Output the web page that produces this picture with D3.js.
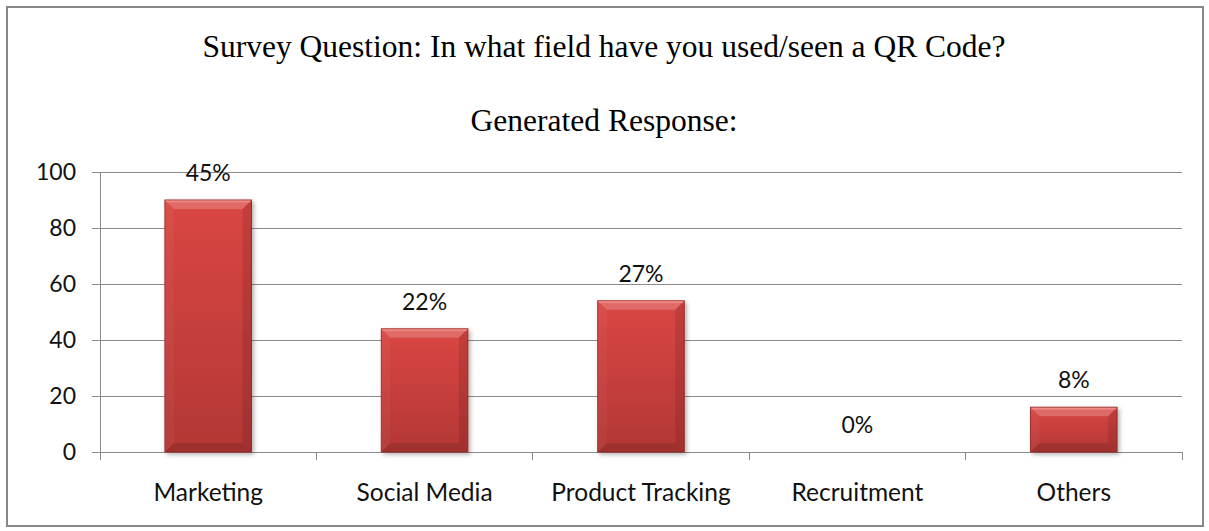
<!DOCTYPE html>
<html>
<head>
<meta charset="utf-8">
<script src="https://cdn.jsdelivr.net/npm/d3@7"></script>
<style>
  html, body { margin: 0; padding: 0; background: #fff; }
  svg { display: block; }
</style>
</head>
<body>
<svg id="chart" width="1209" height="531"></svg>
<script>
const categories = ["Marketing", "Social Media", "Product Tracking", "Recruitment", "Others"];
const values = [90, 44, 54, 0, 16];
const valueLabels = ["45%", "22%", "27%", "0%", "8%"];
const yTicks = [0, 20, 40, 60, 80, 100];
const titleLines = ["Survey Question: In what field have you used/seen a QR Code?", "Generated Response:"];

const svg = d3.select("#chart");
const plot = { left: 100, right: 1182, top: 172, bottom: 452 };
const labelFont = "Lato, 'Open Sans', sans-serif";
const titleFont = "'Liberation Serif', 'Times New Roman', serif";

// outer border
svg.append("rect")
  .attr("x", 7).attr("y", 7).attr("width", 1196).attr("height", 519)
  .attr("fill", "#fff").attr("stroke", "#878787").attr("stroke-width", 2);

// defs
const defs = svg.append("defs");
const grad = defs.append("linearGradient").attr("id", "barGrad")
  .attr("x1", 0).attr("y1", 0).attr("x2", 0).attr("y2", 1);
grad.append("stop").attr("offset", "0%").attr("stop-color", "#da4643");
grad.append("stop").attr("offset", "100%").attr("stop-color", "#b33735");
const shadow = defs.append("filter").attr("id", "shadow")
  .attr("x", "-20%").attr("y", "-20%").attr("width", "140%").attr("height", "140%");
shadow.append("feDropShadow").attr("dx", 2).attr("dy", 2).attr("stdDeviation", 2)
  .attr("flood-color", "#000").attr("flood-opacity", 0.3);

const x = d3.scaleBand().domain(categories).range([plot.left, plot.right]).padding(0);
const y = d3.scaleLinear().domain([0, 100]).range([plot.bottom, plot.top]);

// gridlines
svg.append("g").selectAll("line").data(yTicks.filter(d => d !== 0)).join("line")
  .attr("x1", plot.left).attr("x2", plot.right)
  .attr("y1", d => y(d)).attr("y2", d => y(d))
  .attr("stroke", "#8c8c8c").attr("stroke-width", 1).attr("shape-rendering", "crispEdges");

// y axis
const yAxis = svg.append("g").attr("transform", `translate(${plot.left},0)`)
  .call(d3.axisLeft(y).tickValues(yTicks).tickSize(8).tickPadding(16));
yAxis.select(".domain").attr("stroke", "#8c8c8c");
yAxis.selectAll(".tick line").attr("stroke", "#8c8c8c");
yAxis.selectAll(".tick text").attr("font-family", labelFont).attr("font-size", 23)
  .attr("fill", "#111");

// x axis
const xAxis = svg.append("g").attr("transform", `translate(0,${plot.bottom})`)
  .call(d3.axisBottom(x).tickSize(0).tickPadding(0));
xAxis.select(".domain").attr("stroke", "#8c8c8c");
xAxis.selectAll(".tick text").attr("font-family", labelFont).attr("font-size", 24.5)
  .attr("fill", "#111").attr("dy", null).attr("y", 49);
// category separator ticks
const sepPositions = categories.map(c => x(c)).concat([x(categories[categories.length - 1]) + x.bandwidth()]);
svg.append("g").selectAll("line").data(sepPositions).join("line")
  .attr("x1", d => d).attr("x2", d => d)
  .attr("y1", plot.bottom).attr("y2", plot.bottom + 8)
  .attr("stroke", "#8c8c8c").attr("shape-rendering", "crispEdges");

// bars
const barW = x.bandwidth() * 0.4;
const bev = 9;
const bars = svg.append("g").selectAll("g").data(categories.map((c, i) => ({ c, v: values[i], l: valueLabels[i] })))
  .join("g").filter(d => d.v > 0);
bars.append("rect")
  .attr("x", d => x(d.c) + (x.bandwidth() - barW) / 2)
  .attr("y", d => y(d.v))
  .attr("width", barW)
  .attr("height", d => y(0) - y(d.v))
  .attr("fill", "url(#barGrad)")
  .attr("stroke", "#9e2f2d").attr("stroke-width", 1)
  .attr("filter", "url(#shadow)");
// bevels
function bevelPoly(d, side) {
  const x0 = x(d.c) + (x.bandwidth() - barW) / 2, x1 = x0 + barW;
  const y0 = y(d.v), y1 = y(0);
  const b = Math.min(bev, (y1 - y0) / 2, barW / 2);
  if (side === "top") return [[x0, y0], [x1, y0], [x1 - b, y0 + b], [x0 + b, y0 + b]];
  if (side === "left") return [[x0, y0], [x0 + b, y0 + b], [x0 + b, y1 - b], [x0, y1]];
  if (side === "right") return [[x1, y0], [x1, y1], [x1 - b, y1 - b], [x1 - b, y0 + b]];
  return [[x0, y1], [x0 + b, y1 - b], [x1 - b, y1 - b], [x1, y1]];
}
const bevelStyles = { top: ["#ffffff", 0.2], left: ["#ffffff", 0.04], right: ["#000000", 0.1], bottom: ["#000000", 0.12] };
Object.keys(bevelStyles).forEach(side => {
  bars.append("polygon")
    .attr("points", d => bevelPoly(d, side).map(p => p.join(",")).join(" "))
    .attr("fill", bevelStyles[side][0]).attr("fill-opacity", bevelStyles[side][1]);
});
bars.append("line")
  .attr("x1", d => x(d.c) + (x.bandwidth() - barW) / 2 + 1)
  .attr("x2", d => x(d.c) + (x.bandwidth() + barW) / 2 - 1)
  .attr("y1", d => y(d.v) + 1.5).attr("y2", d => y(d.v) + 1.5)
  .attr("stroke", "#f08a88").attr("stroke-width", 1.5);

// value labels
svg.append("g").selectAll("text").data(categories.map((c, i) => ({ c, v: values[i], l: valueLabels[i] })))
  .join("text")
  .attr("x", d => x(d.c) + x.bandwidth() / 2)
  .attr("y", d => y(d.v) - 19)
  .attr("text-anchor", "middle")
  .attr("font-family", labelFont).attr("font-size", 23).attr("fill", "#111")
  .text(d => d.l);

// title
svg.append("g").selectAll("text").data(titleLines).join("text")
  .attr("x", 604)
  .attr("y", (d, i) => 57 + i * 74)
  .attr("text-anchor", "middle")
  .attr("font-family", titleFont).attr("font-size", 31.5).attr("fill", "#000")
  .text(d => d);
</script>
</body>
</html>
